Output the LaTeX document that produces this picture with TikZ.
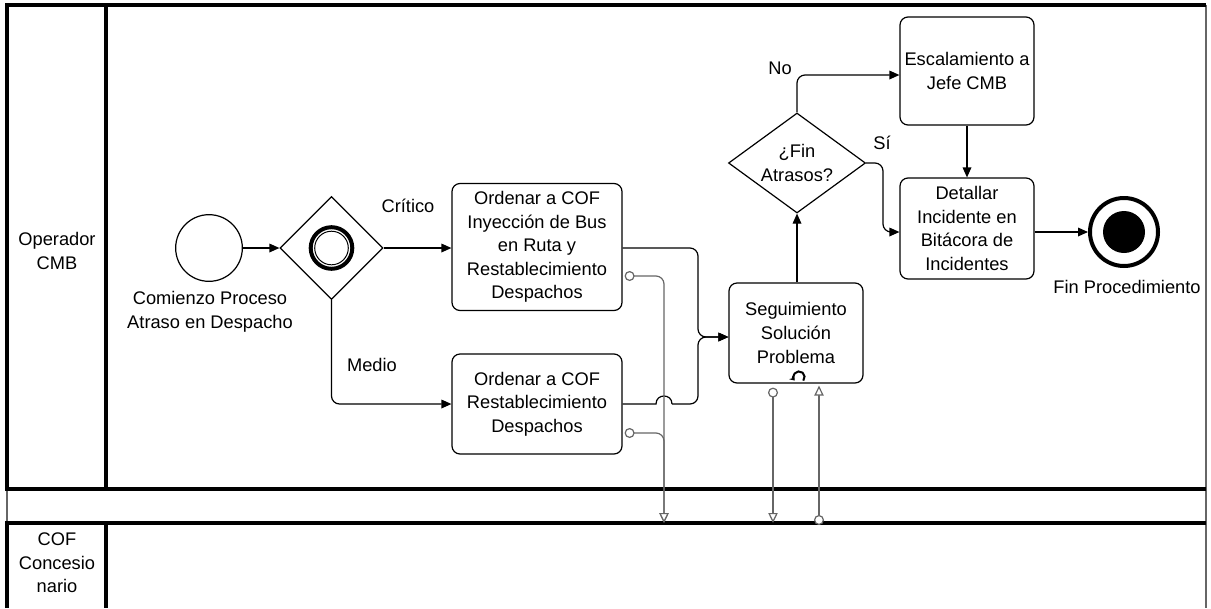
\documentclass[tikz,border=0pt]{standalone}
\usepackage{fontspec}
\setmainfont{Liberation Sans}
\usetikzlibrary{shapes.geometric,arrows.meta,calc}
\begin{document}
\begin{tikzpicture}[x=0.75pt,y=-0.75pt,
  every node/.style={font=\fontsize{13.7}{17.7}\selectfont},
  lane/.style={line width=2.5pt},
  laneedge/.style={draw=black!60, line width=1.2pt},
  task/.style={draw, rounded corners=6pt, line width=0.9pt, align=center, inner sep=0pt,
    execute at begin node={\rule{0pt}{16pt}}},
  txt/.style={align=center, inner sep=0pt},
  seq/.style={line width=0.9pt, rounded corners=6pt, -{Triangle[length=7.5pt,width=6.5pt]}},
  msg/.style={draw=black!60, line width=0.9pt, rounded corners=6pt,
    {Circle[open,fill=white,length=7.5pt,width=7.5pt]}-{Triangle[open,fill=white,length=7.5pt,width=7pt]}},
]
\useasboundingbox (0,0) rectangle (1211,608);

% pool and lanes
\draw[laneedge] (1206,5) -- (1206,608);
\draw[laneedge] (7,489) -- (7,523);
\draw[lane] (1206,5) -- (7,5) -- (7,489) -- (1206,489);
\draw[lane] (106,5) -- (106,489);
\draw[lane] (7,608) -- (7,523) -- (1206,523);
\draw[lane] (106,523) -- (106,608);
\node[txt] (lane1) at (57,251) {Operador\\CMB};
\node[txt] (lane2) at (57,563) {COF\\Concesio\\nario};

% start event and gateway
\node[circle, draw, line width=0.9pt, minimum size=50pt, inner sep=0pt] (start) at (209,248) {};
\node[txt] (startlbl) at (210,312) {Comienzo Proceso\\Atraso en Despacho};
\node[diamond, draw, line width=0.9pt, minimum size=77.25pt, inner sep=0pt, aspect=1] (gw) at (331.5,248) {};
\draw[line width=3pt] (gw.center) circle[radius=15.6pt];
\draw[line width=0.75pt] (gw.center) circle[radius=12.6pt];
\node (critico) at (408,206) {Crítico};
\node (medio) at (372,365) {Medio};

% tasks
\node[task, minimum width=127.5pt, minimum height=95.25pt] (t1) at (537,247) {Ordenar a COF\\Inyección de Bus\\en Ruta y\\Restablecimiento\\Despachos};
\node[task, minimum width=127.5pt, minimum height=75pt] (t2) at (537,404) {Ordenar a COF\\Restablecimiento\\Despachos};
\node[task, minimum width=100.5pt, minimum height=75pt] (t3) at (796,333) {Seguimiento\\Solución\\Problema};
\node[task, minimum width=100.5pt, minimum height=81pt] (t4) at (967,71) {Escalamiento a\\Jefe CMB};
\node[task, minimum width=100.5pt, minimum height=75.75pt] (t5) at (967,228.5) {Detallar\\Incidente en\\Bitácora de\\Incidentes};

% loop marker
\coordinate (loopc) at (799,377);
\draw[line width=1.5pt, -{Stealth[length=3.5pt,width=5pt]}] ([shift={(-40:4.2pt)}]loopc) arc[start angle=-40, end angle=220, radius=4.2pt];

% decision
\node[diamond, draw, line width=0.9pt, minimum width=102.75pt, minimum height=75pt, inner sep=0pt, aspect=1.37, align=center] (dec) at (797,163) {¿Fin\\Atrasos?};
\node (no) at (780,68) {No};
\node (si) at (882,143) {Sí};

% end event
\node[circle, draw, line width=3pt, minimum size=51pt, inner sep=0pt] (end) at (1124,232) {};
\fill (end.center) circle[radius=15.75pt];
\node[txt] (endlbl) at (1127,287) {Fin Procedimiento};

% sequence flows
\coordinate (join) at (698,337);
\coordinate (hopL) at (656,404);
\coordinate (hopR) at (672,404);
\coordinate (sibend) at (883,232);
\draw[seq] (start.east) -- (gw.west);
\draw[seq] (gw.east) -- (gw.east -| t1.west);
\draw[seq] (gw.south) |- (t2.west);
\draw[seq] (t1.east |- gw.east) -| (join) -- (t3.west |- join);
\draw[line width=0.9pt] (t2.east) -- (hopL) .. controls (656,393.3) and (672,393.3) .. (hopR);
\draw[seq] (hopR) -| (join) -- (t3.west |- join);
\draw[seq] (dec.south |- t3.north) -- (dec.south);
\draw[seq] (dec.north) |- ([yshift=-3pt]t4.west);
\draw[seq] (dec.east) -| (sibend) -- (t5.west |- sibend);
\draw[seq] (t4.south) -- (t5.north);
\draw[seq] (t5.east |- end) -- (end.west);

% message flows
\coordinate (mdrop) at (664,523);
\coordinate (m3a) at ($(t3.south)+(-23,4)$);
\coordinate (m3b) at (m3a |- mdrop);
\coordinate (m4a) at (819,525);
\coordinate (m4b) at ($(t3.south)+(23,2)$);
\draw[msg] ($(t1.east)+(2,29)$) -| (mdrop);
\draw[msg] ($(t2.east)+(2,29)$) -| (mdrop);
\draw[msg] (m3a) -- (m3b);
\draw[msg] (m4a) -- (m4b);
\end{tikzpicture}
\end{document}
